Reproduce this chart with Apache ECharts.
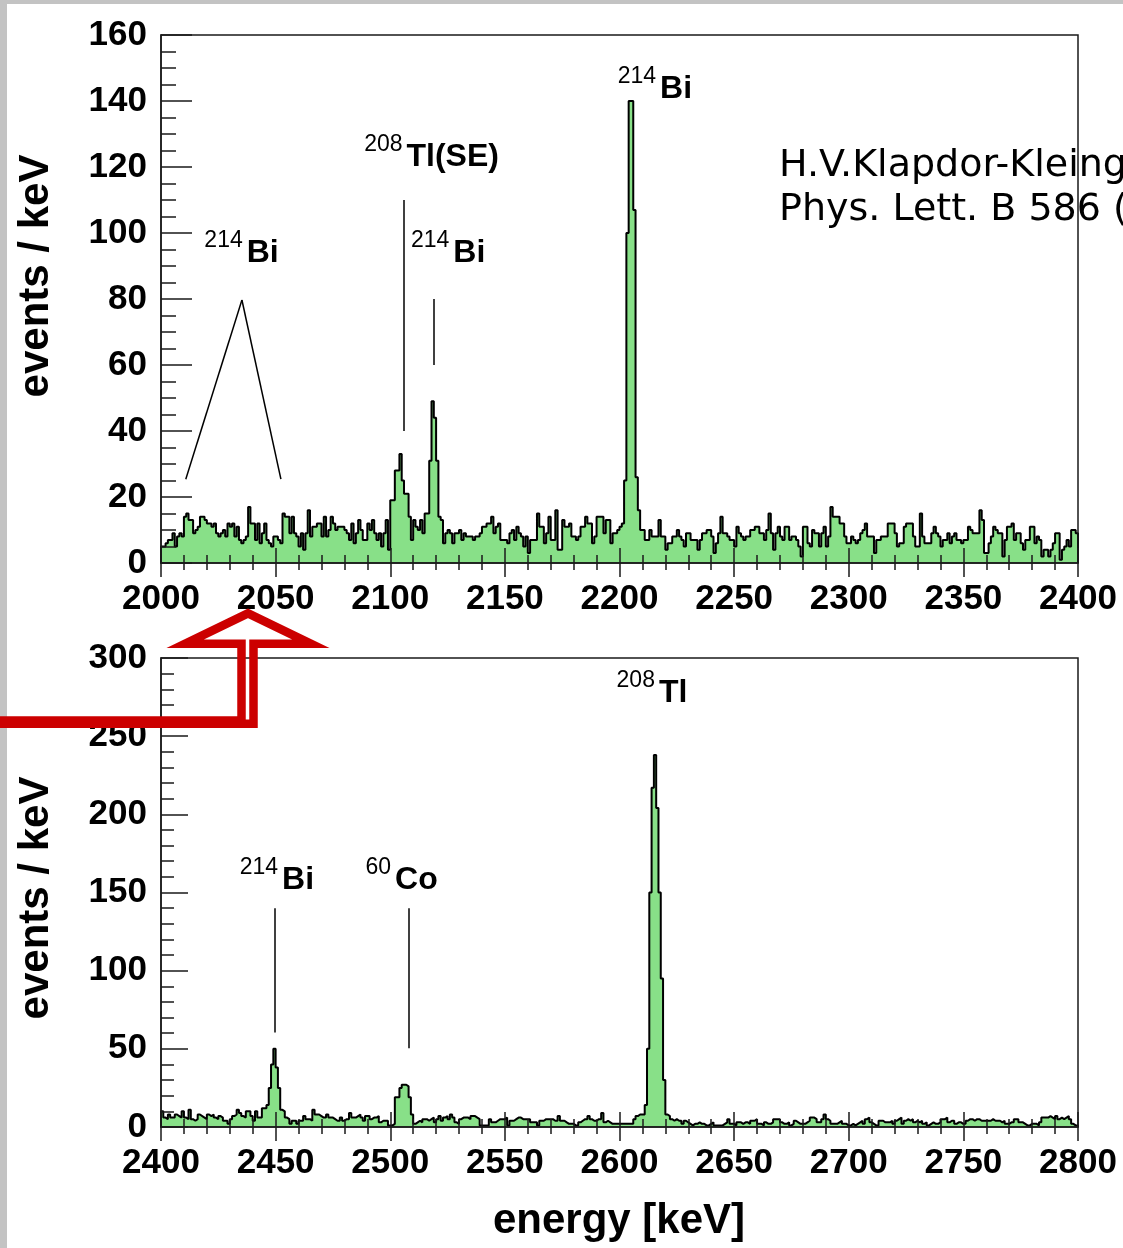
<!DOCTYPE html>
<html>
<head>
<meta charset="utf-8">
<script src="https://cdn.jsdelivr.net/npm/echarts@6/dist/echarts.min.js"></script>
<style>
  html, body { margin: 0; padding: 0; background: #ffffff; }
  #main { width: 1123px; height: 1248px; }
</style>
</head>
<body>
<div id="main"></div>
<script>
// Germanium detector spectrum, 1 keV bins, events per keV.
const binWidth = 1;
const lowStart = 2000;   // upper panel: 2000-2400 keV
const highStart = 2400;  // lower panel: 2400-2800 keV

const countsLow = [
  5,5,6,7,7,9,5,8,9,8,
  14,15,13,13,9,10,11,14,14,13,
  12,12,11,12,9,8,9,10,8,12,
  11,12,8,11,7,6,7,8,17,12,
  12,7,12,6,9,12,7,6,5,8,
  8,7,6,15,14,14,9,14,9,8,
  5,9,4,9,16,8,11,11,12,12,
  8,14,8,10,14,12,10,11,11,11,
  10,9,7,12,6,9,13,10,7,7,
  12,10,13,9,7,9,5,9,13,4,
  19,19,28,28,33,25,21,21,14,7,
  13,11,10,13,9,15,15,31,49,44,
  31,14,13,6,9,10,9,6,9,9,
  10,7,9,8,8,8,7,8,8,9,
  11,11,12,12,14,9,11,12,7,7,
  7,6,9,10,7,11,9,8,5,8,
  3,7,7,7,15,11,11,6,9,14,
  7,7,16,4,4,13,11,11,12,8,
  8,7,8,11,11,14,12,12,6,8,
  14,14,14,9,13,13,6,9,9,10,
  11,12,25,100,140,140,107,26,16,10,
  10,7,7,10,8,8,8,13,8,8,
  4,6,6,8,8,10,8,7,5,9,
  9,7,7,7,4,7,9,9,10,10,
  8,3,6,9,14,9,9,8,7,7,
  5,11,9,8,7,8,8,10,10,11,
  11,9,9,7,10,15,9,4,9,11,
  8,7,11,11,7,8,8,7,5,2,
  11,11,6,5,10,9,9,5,9,11,
  5,8,17,14,14,14,12,12,8,6,
  6,8,7,6,7,9,10,12,8,8,
  8,3,7,7,8,8,8,12,12,12,
  9,5,6,6,11,12,12,12,8,5,
  5,15,8,6,6,6,9,11,9,8,
  5,7,7,9,6,8,9,7,7,6,
  7,7,11,10,9,9,9,16,13,3,
  3,6,8,11,10,9,9,2,7,11,
  11,12,7,9,9,6,4,7,7,11,
  11,6,8,7,2,4,4,2,4,6,
  9,9,1,4,5,7,5,10,10,9
];

const countsHigh = [
  10,6,5,8,6,6,8,7,6,10,
  6,5,11,5,4,5,8,7,6,5,
  8,7,8,6,5,7,6,4,4,2,
  5,7,8,11,9,7,6,10,10,7,
  4,10,6,6,12,12,14,25,40,50,
  38,25,11,10,6,5,2,4,4,2,
  4,4,7,5,5,4,11,8,8,7,
  6,6,8,6,6,5,4,4,6,4,
  5,5,9,6,6,7,8,6,4,7,
  7,5,6,6,7,3,4,4,4,1,
  1,2,19,19,25,27,27,26,19,8,
  2,3,4,3,5,5,4,5,6,3,
  5,7,4,6,7,5,8,6,3,2,
  5,6,6,6,5,7,7,6,5,1,
  1,1,1,5,3,3,4,5,5,5,
  6,1,4,4,5,6,6,5,5,5,
  5,3,3,3,1,4,4,5,5,5,
  5,4,4,7,4,4,3,2,2,2,
  1,1,3,4,5,5,7,5,4,4,
  5,5,9,3,4,3,2,2,2,2,
  2,2,2,2,2,2,5,7,8,8,
  8,14,50,150,217,238,204,150,95,30,
  8,7,5,4,5,4,4,2,4,3,
  2,1,2,2,3,2,2,1,1,2,
  3,1,1,1,1,2,3,5,2,2,
  1,3,3,2,3,3,2,4,4,5,
  2,2,1,3,2,2,3,5,5,5,
  3,2,2,3,1,2,4,3,2,2,
  2,3,4,6,6,5,3,3,5,8,
  5,4,2,2,2,3,4,2,2,1,
  1,2,1,2,3,4,2,5,6,3,
  2,1,1,4,4,3,3,3,4,2,
  4,5,6,2,4,5,4,5,3,4,
  3,4,2,3,1,2,3,2,2,3,
  5,5,6,3,4,4,2,3,3,2,
  2,4,5,5,4,5,5,4,4,4,
  4,4,5,4,4,4,3,4,2,2,
  3,3,5,5,3,3,2,1,1,2,
  2,2,1,3,6,6,6,7,6,5,
  7,5,6,5,6,7,5,2,1,1
];

// Axis ranges and tick steps
const lowRange = [2000, 2400];
const highRange = [2400, 2800];
const energyStep = 50;
const lowCountRange = [0, 160], lowCountStep = 20;
const highCountRange = [0, 300], highCountStep = 50;

// Line identifications: isotope mass number, element, anchor (energy, level of label centre)
const lowPeakLabels = [
  { iso: '214', el: 'Bi', energy: 2037.4, level: 94 },
  { iso: '208', el: 'Tl(SE)', energy: 2107.1, level: 123 },
  { iso: '214', el: 'Bi', energy: 2127.5, level: 94 },
  { iso: '214', el: 'Bi', energy: 2217.7, level: 143.6 }
];
const highPeakLabels = [
  { iso: '208', el: 'Tl', energy: 2617.2, level: 277.5 },
  { iso: '214', el: 'Bi', energy: 2452.8, level: 157.7 },
  { iso: '60', el: 'Co', energy: 2502.1, level: 157.7 }
];
// Pointer lines from labels towards the lines (energy, events/keV)
const lowPeakMarkers = [
  [[2010.8, 25.4], [2035.3, 79.7]],
  [[2035.3, 79.7], [2052.3, 25.4]],
  [[2105.7, 40], [2105.7, 110]],
  [[2118.8, 60], [2118.8, 80]]
];
const highPeakMarkers = [
  [[2449.7, 60.5], [2449.7, 140]],
  [[2507.9, 50.3], [2507.9, 140]]
];

const citation = ['H.V.Klapdor-Kleingrothaus et al.,', 'Phys. Lett. B 586 (2004) 198'];

const SANS = "'Liberation Sans', Arial, Helvetica, sans-serif";
const INK = '#1a1a1a';
const FILL = '#88e088';

function histPoints(start, counts) {
  const pts = [[start, 0]];
  counts.forEach((c, i) => pts.push([start + i * binWidth, c]));
  const end = start + counts.length * binWidth;
  pts.push([end, counts[counts.length - 1]]);
  pts.push([end, 0]);
  return pts;
}

function xAxesFor(gridIndex, range) {
  const base = {
    type: 'value', gridIndex, position: 'bottom', min: range[0], max: range[1],
    interval: energyStep, splitLine: { show: false }, z: 5
  };
  return [
    Object.assign({}, base, {
      axisLine: { show: true, lineStyle: { color: INK, width: 1.5 } },
      axisTick: { show: true, inside: true, length: 15, lineStyle: { color: INK, width: 1.5 } },
      minorTick: { show: true, splitNumber: 5, length: 8, lineStyle: { color: INK, width: 1.5 } },
      axisLabel: {
        show: true, color: '#000', fontFamily: SANS, fontWeight: 'bold', fontSize: 35,
        margin: 19, showMinLabel: true, showMaxLabel: true,
        formatter: v => String(v)
      }
    }),
    Object.assign({}, base, {
      axisLine: { show: false },
      axisTick: { show: true, inside: false, length: 14, lineStyle: { color: INK, width: 1.5 } },
      minorTick: { show: true, splitNumber: 5, length: 7, lineStyle: { color: INK, width: 1.5 } },
      axisLabel: { show: false }
    })
  ];
}

function yAxisFor(gridIndex, range, step, minorSplit, majorLen, minorLen) {
  return {
    type: 'value', gridIndex, position: 'left', min: range[0], max: range[1], interval: step,
    splitLine: { show: false }, z: 5,
    axisLine: { show: true, lineStyle: { color: INK, width: 1.5 } },
    axisTick: { show: true, inside: true, length: majorLen, lineStyle: { color: INK, width: 1.5 } },
    minorTick: { show: true, splitNumber: minorSplit, length: minorLen, lineStyle: { color: INK, width: 1.5 } },
    axisLabel: {
      show: true, color: '#000', fontFamily: SANS, fontWeight: 'bold', fontSize: 35,
      margin: 14, showMinLabel: true, showMaxLabel: true,
      formatter: v => String(v)
    }
  };
}

function markerLines(segments) {
  return {
    silent: true, symbol: ['none', 'none'], animation: false,
    lineStyle: { color: '#000', width: 1.5, type: 'solid' },
    label: { show: false }, emphasis: { disabled: true },
    data: segments.map(s => [{ coord: s[0] }, { coord: s[1] }])
  };
}

function histSeries(xAxisIndex, yAxisIndex, start, counts, markers) {
  return {
    type: 'line', xAxisIndex, yAxisIndex, step: 'end', symbol: 'none', showSymbol: false,
    animation: false, silent: true, z: 2,
    data: histPoints(start, counts),
    lineStyle: { color: '#000', width: 2 },
    areaStyle: { color: FILL, opacity: 1 },
    markLine: markerLines(markers)
  };
}

const chart = echarts.init(document.getElementById('main'), null, {
  renderer: 'canvas', width: 1123, height: 1248
});

const grids = [
  { left: 161, top: 35, width: 917, height: 528 },
  { left: 161, top: 658, width: 917, height: 469 }
].map(g => Object.assign(g, {
  show: true, borderColor: INK, borderWidth: 1.5, backgroundColor: 'transparent', z: 10, containLabel: false
}));

chart.setOption({
  backgroundColor: '#ffffff',
  animation: false,
  grid: grids,
  xAxis: xAxesFor(0, lowRange).concat(xAxesFor(1, highRange)),
  yAxis: [
    yAxisFor(0, lowCountRange, lowCountStep, 4, 31, 15),
    yAxisFor(1, highCountRange, highCountStep, 5, 27, 13)
  ],
  series: [
    histSeries(0, 0, lowStart, countsLow, lowPeakMarkers),
    histSeries(2, 1, highStart, countsHigh, highPeakMarkers)
  ]
});

// Text overlays: isotope labels, axis titles, reference, pointer arrow
const graphics = [];

function addPeakLabels(gridIndex, labels) {
  labels.forEach(l => {
    const p = chart.convertToPixel({ gridIndex }, [l.energy, l.level]);
    graphics.push({
      type: 'text', x: p[0], y: p[1], z: 20, silent: true,
      style: { text: l.el, fill: '#000', font: 'bold 32px ' + SANS, align: 'left', verticalAlign: 'middle' }
    });
    graphics.push({
      type: 'text', x: p[0] - 4, y: p[1] - 12.5, z: 20, silent: true,
      style: { text: l.iso, fill: '#000', font: '23px ' + SANS, align: 'right', verticalAlign: 'middle' }
    });
  });
}
addPeakLabels(0, lowPeakLabels);
addPeakLabels(1, highPeakLabels);

// Frame strip on the top and left edges of the page
graphics.push({ type: 'rect', shape: { x: 0, y: 0, width: 1123, height: 4 }, style: { fill: '#c3c3c3' }, z: 30, silent: true });
graphics.push({ type: 'rect', shape: { x: 0, y: 0, width: 7, height: 1248 }, style: { fill: '#c3c3c3' }, z: 30, silent: true });

// Axis titles
[[36, 276], [36, 898]].forEach(pos => {
  graphics.push({
    type: 'text', x: pos[0], y: pos[1], rotation: Math.PI / 2, z: 20, silent: true,
    style: { text: 'events / keV', fill: '#000', font: 'bold 42px ' + SANS, align: 'center', verticalAlign: 'middle' }
  });
});
graphics.push({
  type: 'text', x: 619, y: 1221, z: 20, silent: true,
  style: { text: 'energy [keV]', fill: '#000', font: 'bold 42px ' + SANS, align: 'center', verticalAlign: 'middle' }
});

// Literature reference, below the frame layer
citation.forEach((line, i) => {
  graphics.push({
    type: 'text', x: 779, y: 166.5 + i * 44, z: 1, silent: true,
    style: { text: line, fill: '#000', font: "38px 'DejaVu Sans', Verdana, sans-serif", align: 'left', verticalAlign: 'middle' }
  });
});

// Hollow red arrow pointing from the lower panel up to 2039 keV
graphics.push({
  type: 'polyline', z: 40, silent: true,
  shape: {
    points: [[-10, 720.5], [241.5, 720.5], [241.5, 643.8], [185, 643.8], [248, 613.3],
             [311, 643.8], [253.5, 643.8], [253.5, 723.8], [-10, 723.8]]
  },
  style: { stroke: '#cc0000', lineWidth: 8.5, fill: null, lineJoin: 'miter', miterLimit: 10 }
});

chart.setOption({ graphic: graphics });
</script>
</body>
</html>
